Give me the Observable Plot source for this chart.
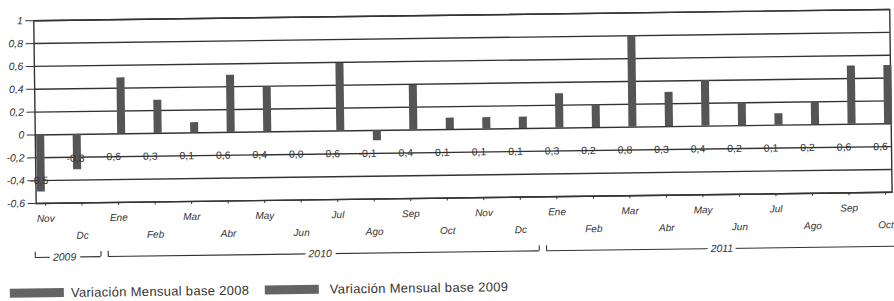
<!DOCTYPE html>
<html><head><meta charset="utf-8">
<script src="https://cdn.jsdelivr.net/npm/d3@7"></script>
<script src="https://cdn.jsdelivr.net/npm/@observablehq/plot@0.6"></script>
<style>
html,body{margin:0;padding:0;background:#fff;overflow:hidden;width:894px;height:301px}
#wrap{position:relative;width:894px;height:301px;transform:rotate(-0.75deg);transform-origin:447px 150px;font-family:"Liberation Sans",Arial,sans-serif}
#chart svg{display:block}
#legend{position:absolute;left:0;top:280px;width:894px;height:15px}
#legend .sw{position:absolute;top:3px;width:54px;height:9px;background:#646464}
#legend .tx{position:absolute;top:0;font-size:13px;letter-spacing:0.3px;line-height:15px;color:#333;white-space:nowrap}
g[aria-label="x-axis tick label"] text, g[aria-label="y-axis tick label"] text{font-style:italic}
</style></head><body>
<div id="wrap"><div id="chart"></div><div id="legend"></div></div>
<script>
// ---- data ----
const months = ["Nov","Dc","Ene","Feb","Mar","Abr","May","Jun","Jul","Ago","Sep","Oct",
                "Nov","Dc","Ene","Feb","Mar","Abr","May","Jun","Jul","Ago","Sep","Oct"];
const seriesOf = ["base 2008","base 2008",
  "base 2009","base 2009","base 2009","base 2009","base 2009","base 2009","base 2009","base 2009","base 2009","base 2009",
  "base 2009","base 2009","base 2009","base 2009","base 2009","base 2009","base 2009","base 2009","base 2009","base 2009","base 2009","base 2009"];
const values = [-0.5,-0.31, 0.49,0.29,0.09,0.5,0.39,0,0.59,-0.09,0.39,0.1,0.1,0.1,
                0.3,0.2,0.8,0.3,0.4,0.2,0.1,0.2,0.51,0.51];
const barLabels = ["-0,5","-0,3","0,6","0,3","0,1","0,6","0,4","0,0","0,6","-0,1","0,4","0,1","0,1","0,1",
                   "0,3","0,2","0,8","0,3","0,4","0,2","0,1","0,2","0,6","0,6"];
const years = ["2009","2010","2011"];
const yearFirst = [0, 2, 14];
const yearLast = [1, 13, 23];
const yTicks = [-0.6,-0.4,-0.2,0,0.2,0.4,0.6,0.8,1];
const legendLabels = ["Variación Mensual base 2008","Variación Mensual base 2009"];

// ---- build ----
const rows = months.map((m, i) => ({i, m, v: values[i], s: seriesOf[i], label: barLabels[i]}));
const yearRows = years.map((y, k) => ({y, first: yearFirst[k], last: yearLast[k]}));
const yMin = yTicks[0];
const ink = "#333", barFill = "#555";
const half = 0.11;

const chart = Plot.plot({
  width: 894, height: 272,
  marginLeft: 35, marginRight: 3, marginTop: 14.8, marginBottom: 74.4,
  style: {fontFamily: '"Liberation Sans", Arial, sans-serif', background: "transparent", color: "#333"},
  x: {type: "linear", domain: [-0.257, 23.18]},
  y: {domain: [yMin, 1]},
  marks: [
    Plot.gridY(yTicks, {stroke: ink, strokeOpacity: 1, strokeWidth: 1.4}),
    Plot.frame({stroke: ink, strokeWidth: 1.4}),
    Plot.rectY(rows.filter(d => d.s === "base 2008"), {x1: d => d.i - half, x2: d => d.i + half, y1: 0, y2: "v", fill: barFill, dx: -4}),
    Plot.rectY(rows.filter(d => d.s === "base 2009"), {x1: d => d.i - half, x2: d => d.i + half, y1: 0, y2: "v", fill: barFill, dx: 4}),
    Plot.text(rows, {x: "i", y: d => Math.min(-0.2, d.v + 0.1), text: "label", textAnchor: "end", dx: 3, fontSize: 10.5, fill: "#333"}),
    Plot.axisY({ticks: yTicks, label: null, tickSize: 8, tickPadding: 3, fontSize: 10.5, fontStyle: "italic", stroke: ink,
      tickFormat: d => String(d).replace(".", ",")}),
    Plot.axisX({ticks: d3.range(0, 24, 2), label: null, tickSize: 3, tickPadding: 8.4, fontSize: 10, fontStyle: "italic", stroke: ink,
      tickFormat: i => months[i]}),
    Plot.axisX({ticks: d3.range(1, 24, 2), label: null, tickSize: 3, tickPadding: 25.8, fontSize: 10, fontStyle: "italic", stroke: ink,
      tickFormat: i => months[i]}),
    // year brackets
    Plot.ruleY(yearRows, {x1: d => d.first - 0.3, x2: d => d.last + 0.5, y: () => yMin, dy: 54, stroke: ink, strokeWidth: 1.1}),
    Plot.ruleX(yearRows, {x: d => d.first - 0.3, y1: () => yMin, y2: () => yMin + 0.045, dy: 54, stroke: ink, strokeWidth: 1.1}),
    Plot.ruleX(yearRows.filter(d => d.last < months.length - 1), {x: d => d.last + 0.5, y1: () => yMin, y2: () => yMin + 0.045, dy: 54, stroke: ink, strokeWidth: 1.1}),
    Plot.text(yearRows, {x: d => (d.first + d.last) / 2, y: () => yMin, dy: 54, text: "y", fontSize: 10.5, fontStyle: "italic",
      fill: "#333", stroke: "white", strokeWidth: 8, paintOrder: "stroke"})
  ]
});
document.getElementById("chart").appendChild(chart);

// legend
const legend = document.getElementById("legend");
const swX = [8, 263], txX = [69, 328];
legendLabels.forEach((t, k) => {
  const sw = document.createElement("div"); sw.className = "sw"; sw.style.left = swX[k] + "px"; legend.appendChild(sw);
  const tx = document.createElement("div"); tx.className = "tx"; tx.style.left = txX[k] + "px"; tx.textContent = t; legend.appendChild(tx);
});
</script>
</body></html>
